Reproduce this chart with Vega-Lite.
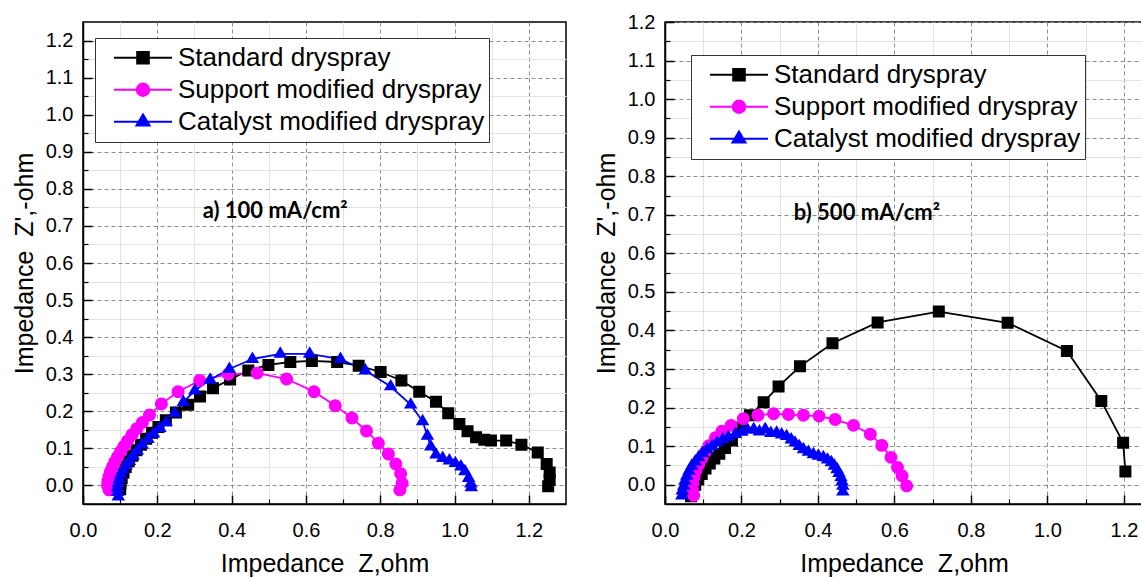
{
  "$schema": "https://vega.github.io/schema/vega-lite/v6.json",
  "background": "white",
  "padding": {"left": 11, "top": 11, "right": 0, "bottom": 0},
  "spacing": 26,
  "config": {
    "view": {"stroke": "#000000", "strokeWidth": 1.5},
    "axis": {"labelFont": "Liberation Sans", "labelFontSize": 20, "labelColor": "#000000", "titleFont": "Liberation Sans", "titleFontSize": 25, "titleFontWeight": "normal", "titleColor": "#000000", "domainColor": "#000000", "domainWidth": 1.5, "tickColor": "#000000", "labelFlush": false, "labelOverlap": false},
    "legend": {"padding": 4, "strokeColor": "#333333", "fillColor": "#ffffff", "cornerRadius": 0, "symbolSize": 3364, "symbolStrokeWidth": 2, "symbolOffset": 14, "labelOffset": 5, "labelFont": "Liberation Sans", "labelFontSize": 26, "labelColor": "#000000", "labelLimit": 600, "clipHeight": 31.5, "rowPadding": 0}
  },
  "datasets": {
    "left": [
      {"series": "Standard dryspray", "z": 0.100, "zi": -0.010},
      {"series": "Standard dryspray", "z": 0.101, "zi": 0.005},
      {"series": "Standard dryspray", "z": 0.104, "zi": 0.020},
      {"series": "Standard dryspray", "z": 0.109, "zi": 0.035},
      {"series": "Standard dryspray", "z": 0.115, "zi": 0.050},
      {"series": "Standard dryspray", "z": 0.123, "zi": 0.065},
      {"series": "Standard dryspray", "z": 0.133, "zi": 0.080},
      {"series": "Standard dryspray", "z": 0.144, "zi": 0.095},
      {"series": "Standard dryspray", "z": 0.156, "zi": 0.110},
      {"series": "Standard dryspray", "z": 0.170, "zi": 0.126},
      {"series": "Standard dryspray", "z": 0.186, "zi": 0.142},
      {"series": "Standard dryspray", "z": 0.203, "zi": 0.158},
      {"series": "Standard dryspray", "z": 0.223, "zi": 0.176},
      {"series": "Standard dryspray", "z": 0.250, "zi": 0.197},
      {"series": "Standard dryspray", "z": 0.283, "zi": 0.218},
      {"series": "Standard dryspray", "z": 0.315, "zi": 0.240},
      {"series": "Standard dryspray", "z": 0.350, "zi": 0.262},
      {"series": "Standard dryspray", "z": 0.396, "zi": 0.286},
      {"series": "Standard dryspray", "z": 0.445, "zi": 0.310},
      {"series": "Standard dryspray", "z": 0.499, "zi": 0.325},
      {"series": "Standard dryspray", "z": 0.558, "zi": 0.333},
      {"series": "Standard dryspray", "z": 0.616, "zi": 0.336},
      {"series": "Standard dryspray", "z": 0.684, "zi": 0.333},
      {"series": "Standard dryspray", "z": 0.742, "zi": 0.323},
      {"series": "Standard dryspray", "z": 0.801, "zi": 0.306},
      {"series": "Standard dryspray", "z": 0.857, "zi": 0.283},
      {"series": "Standard dryspray", "z": 0.905, "zi": 0.253},
      {"series": "Standard dryspray", "z": 0.950, "zi": 0.226},
      {"series": "Standard dryspray", "z": 0.983, "zi": 0.195},
      {"series": "Standard dryspray", "z": 1.013, "zi": 0.166},
      {"series": "Standard dryspray", "z": 1.035, "zi": 0.146},
      {"series": "Standard dryspray", "z": 1.058, "zi": 0.130},
      {"series": "Standard dryspray", "z": 1.080, "zi": 0.123},
      {"series": "Standard dryspray", "z": 1.098, "zi": 0.121},
      {"series": "Standard dryspray", "z": 1.139, "zi": 0.121},
      {"series": "Standard dryspray", "z": 1.180, "zi": 0.110},
      {"series": "Standard dryspray", "z": 1.224, "zi": 0.089},
      {"series": "Standard dryspray", "z": 1.248, "zi": 0.058},
      {"series": "Standard dryspray", "z": 1.256, "zi": 0.035},
      {"series": "Standard dryspray", "z": 1.256, "zi": 0.015},
      {"series": "Standard dryspray", "z": 1.252, "zi": -0.002},
      {"series": "Support modified dryspray", "z": 0.070, "zi": -0.012},
      {"series": "Support modified dryspray", "z": 0.066, "zi": 0.000},
      {"series": "Support modified dryspray", "z": 0.067, "zi": 0.012},
      {"series": "Support modified dryspray", "z": 0.070, "zi": 0.024},
      {"series": "Support modified dryspray", "z": 0.074, "zi": 0.037},
      {"series": "Support modified dryspray", "z": 0.080, "zi": 0.051},
      {"series": "Support modified dryspray", "z": 0.086, "zi": 0.064},
      {"series": "Support modified dryspray", "z": 0.093, "zi": 0.077},
      {"series": "Support modified dryspray", "z": 0.101, "zi": 0.091},
      {"series": "Support modified dryspray", "z": 0.110, "zi": 0.105},
      {"series": "Support modified dryspray", "z": 0.120, "zi": 0.120},
      {"series": "Support modified dryspray", "z": 0.132, "zi": 0.137},
      {"series": "Support modified dryspray", "z": 0.145, "zi": 0.153},
      {"series": "Support modified dryspray", "z": 0.160, "zi": 0.170},
      {"series": "Support modified dryspray", "z": 0.179, "zi": 0.190},
      {"series": "Support modified dryspray", "z": 0.211, "zi": 0.220},
      {"series": "Support modified dryspray", "z": 0.256, "zi": 0.253},
      {"series": "Support modified dryspray", "z": 0.314, "zi": 0.283},
      {"series": "Support modified dryspray", "z": 0.391, "zi": 0.300},
      {"series": "Support modified dryspray", "z": 0.469, "zi": 0.303},
      {"series": "Support modified dryspray", "z": 0.548, "zi": 0.287},
      {"series": "Support modified dryspray", "z": 0.622, "zi": 0.253},
      {"series": "Support modified dryspray", "z": 0.679, "zi": 0.215},
      {"series": "Support modified dryspray", "z": 0.724, "zi": 0.182},
      {"series": "Support modified dryspray", "z": 0.763, "zi": 0.147},
      {"series": "Support modified dryspray", "z": 0.795, "zi": 0.114},
      {"series": "Support modified dryspray", "z": 0.822, "zi": 0.085},
      {"series": "Support modified dryspray", "z": 0.842, "zi": 0.058},
      {"series": "Support modified dryspray", "z": 0.855, "zi": 0.032},
      {"series": "Support modified dryspray", "z": 0.859, "zi": 0.006},
      {"series": "Support modified dryspray", "z": 0.853, "zi": -0.012},
      {"series": "Catalyst modified dryspray", "z": 0.095, "zi": -0.030},
      {"series": "Catalyst modified dryspray", "z": 0.093, "zi": -0.018},
      {"series": "Catalyst modified dryspray", "z": 0.093, "zi": -0.006},
      {"series": "Catalyst modified dryspray", "z": 0.095, "zi": 0.006},
      {"series": "Catalyst modified dryspray", "z": 0.098, "zi": 0.018},
      {"series": "Catalyst modified dryspray", "z": 0.102, "zi": 0.030},
      {"series": "Catalyst modified dryspray", "z": 0.108, "zi": 0.042},
      {"series": "Catalyst modified dryspray", "z": 0.116, "zi": 0.054},
      {"series": "Catalyst modified dryspray", "z": 0.125, "zi": 0.066},
      {"series": "Catalyst modified dryspray", "z": 0.135, "zi": 0.080},
      {"series": "Catalyst modified dryspray", "z": 0.146, "zi": 0.094},
      {"series": "Catalyst modified dryspray", "z": 0.159, "zi": 0.110},
      {"series": "Catalyst modified dryspray", "z": 0.175, "zi": 0.125},
      {"series": "Catalyst modified dryspray", "z": 0.190, "zi": 0.140},
      {"series": "Catalyst modified dryspray", "z": 0.207, "zi": 0.155},
      {"series": "Catalyst modified dryspray", "z": 0.224, "zi": 0.170},
      {"series": "Catalyst modified dryspray", "z": 0.247, "zi": 0.195},
      {"series": "Catalyst modified dryspray", "z": 0.270, "zi": 0.225},
      {"series": "Catalyst modified dryspray", "z": 0.301, "zi": 0.256},
      {"series": "Catalyst modified dryspray", "z": 0.342, "zi": 0.285},
      {"series": "Catalyst modified dryspray", "z": 0.394, "zi": 0.314},
      {"series": "Catalyst modified dryspray", "z": 0.456, "zi": 0.341},
      {"series": "Catalyst modified dryspray", "z": 0.531, "zi": 0.355},
      {"series": "Catalyst modified dryspray", "z": 0.610, "zi": 0.355},
      {"series": "Catalyst modified dryspray", "z": 0.693, "zi": 0.341},
      {"series": "Catalyst modified dryspray", "z": 0.760, "zi": 0.310},
      {"series": "Catalyst modified dryspray", "z": 0.828, "zi": 0.267},
      {"series": "Catalyst modified dryspray", "z": 0.882, "zi": 0.218},
      {"series": "Catalyst modified dryspray", "z": 0.914, "zi": 0.173},
      {"series": "Catalyst modified dryspray", "z": 0.927, "zi": 0.134},
      {"series": "Catalyst modified dryspray", "z": 0.936, "zi": 0.105},
      {"series": "Catalyst modified dryspray", "z": 0.950, "zi": 0.083},
      {"series": "Catalyst modified dryspray", "z": 0.968, "zi": 0.074},
      {"series": "Catalyst modified dryspray", "z": 0.986, "zi": 0.067},
      {"series": "Catalyst modified dryspray", "z": 1.002, "zi": 0.060},
      {"series": "Catalyst modified dryspray", "z": 1.017, "zi": 0.051},
      {"series": "Catalyst modified dryspray", "z": 1.028, "zi": 0.038},
      {"series": "Catalyst modified dryspray", "z": 1.038, "zi": 0.020},
      {"series": "Catalyst modified dryspray", "z": 1.044, "zi": 0.005},
      {"series": "Catalyst modified dryspray", "z": 1.045, "zi": -0.005}
    ],
    "right": [
      {"series": "Standard dryspray", "z": 0.068, "zi": -0.030},
      {"series": "Standard dryspray", "z": 0.072, "zi": -0.015},
      {"series": "Standard dryspray", "z": 0.079, "zi": 0.000},
      {"series": "Standard dryspray", "z": 0.087, "zi": 0.014},
      {"series": "Standard dryspray", "z": 0.096, "zi": 0.028},
      {"series": "Standard dryspray", "z": 0.106, "zi": 0.042},
      {"series": "Standard dryspray", "z": 0.117, "zi": 0.055},
      {"series": "Standard dryspray", "z": 0.129, "zi": 0.068},
      {"series": "Standard dryspray", "z": 0.142, "zi": 0.080},
      {"series": "Standard dryspray", "z": 0.157, "zi": 0.095},
      {"series": "Standard dryspray", "z": 0.175, "zi": 0.115},
      {"series": "Standard dryspray", "z": 0.197, "zi": 0.145},
      {"series": "Standard dryspray", "z": 0.222, "zi": 0.180},
      {"series": "Standard dryspray", "z": 0.258, "zi": 0.214},
      {"series": "Standard dryspray", "z": 0.297, "zi": 0.255},
      {"series": "Standard dryspray", "z": 0.353, "zi": 0.307},
      {"series": "Standard dryspray", "z": 0.438, "zi": 0.367},
      {"series": "Standard dryspray", "z": 0.556, "zi": 0.421},
      {"series": "Standard dryspray", "z": 0.716, "zi": 0.449},
      {"series": "Standard dryspray", "z": 0.896, "zi": 0.420},
      {"series": "Standard dryspray", "z": 1.051, "zi": 0.347},
      {"series": "Standard dryspray", "z": 1.141, "zi": 0.217},
      {"series": "Standard dryspray", "z": 1.198, "zi": 0.109},
      {"series": "Standard dryspray", "z": 1.204, "zi": 0.034},
      {"series": "Support modified dryspray", "z": 0.075, "zi": -0.028},
      {"series": "Support modified dryspray", "z": 0.072, "zi": -0.012},
      {"series": "Support modified dryspray", "z": 0.073, "zi": 0.004},
      {"series": "Support modified dryspray", "z": 0.076, "zi": 0.020},
      {"series": "Support modified dryspray", "z": 0.081, "zi": 0.036},
      {"series": "Support modified dryspray", "z": 0.088, "zi": 0.052},
      {"series": "Support modified dryspray", "z": 0.096, "zi": 0.068},
      {"series": "Support modified dryspray", "z": 0.105, "zi": 0.084},
      {"series": "Support modified dryspray", "z": 0.115, "zi": 0.101},
      {"series": "Support modified dryspray", "z": 0.132, "zi": 0.122},
      {"series": "Support modified dryspray", "z": 0.149, "zi": 0.139},
      {"series": "Support modified dryspray", "z": 0.173, "zi": 0.154},
      {"series": "Support modified dryspray", "z": 0.205, "zi": 0.171},
      {"series": "Support modified dryspray", "z": 0.243, "zi": 0.180},
      {"series": "Support modified dryspray", "z": 0.284, "zi": 0.184},
      {"series": "Support modified dryspray", "z": 0.323, "zi": 0.182},
      {"series": "Support modified dryspray", "z": 0.362, "zi": 0.180},
      {"series": "Support modified dryspray", "z": 0.403, "zi": 0.178},
      {"series": "Support modified dryspray", "z": 0.445, "zi": 0.169},
      {"series": "Support modified dryspray", "z": 0.493, "zi": 0.154},
      {"series": "Support modified dryspray", "z": 0.537, "zi": 0.131},
      {"series": "Support modified dryspray", "z": 0.567, "zi": 0.102},
      {"series": "Support modified dryspray", "z": 0.591, "zi": 0.071},
      {"series": "Support modified dryspray", "z": 0.608, "zi": 0.045},
      {"series": "Support modified dryspray", "z": 0.620, "zi": 0.023},
      {"series": "Support modified dryspray", "z": 0.632, "zi": -0.003},
      {"series": "Catalyst modified dryspray", "z": 0.044, "zi": -0.028},
      {"series": "Catalyst modified dryspray", "z": 0.045, "zi": -0.015},
      {"series": "Catalyst modified dryspray", "z": 0.049, "zi": -0.003},
      {"series": "Catalyst modified dryspray", "z": 0.052, "zi": 0.010},
      {"series": "Catalyst modified dryspray", "z": 0.057, "zi": 0.023},
      {"series": "Catalyst modified dryspray", "z": 0.063, "zi": 0.036},
      {"series": "Catalyst modified dryspray", "z": 0.070, "zi": 0.049},
      {"series": "Catalyst modified dryspray", "z": 0.079, "zi": 0.060},
      {"series": "Catalyst modified dryspray", "z": 0.088, "zi": 0.071},
      {"series": "Catalyst modified dryspray", "z": 0.099, "zi": 0.082},
      {"series": "Catalyst modified dryspray", "z": 0.110, "zi": 0.092},
      {"series": "Catalyst modified dryspray", "z": 0.123, "zi": 0.100},
      {"series": "Catalyst modified dryspray", "z": 0.136, "zi": 0.109},
      {"series": "Catalyst modified dryspray", "z": 0.151, "zi": 0.117},
      {"series": "Catalyst modified dryspray", "z": 0.166, "zi": 0.124},
      {"series": "Catalyst modified dryspray", "z": 0.184, "zi": 0.131},
      {"series": "Catalyst modified dryspray", "z": 0.201, "zi": 0.137},
      {"series": "Catalyst modified dryspray", "z": 0.216, "zi": 0.142},
      {"series": "Catalyst modified dryspray", "z": 0.232, "zi": 0.144},
      {"series": "Catalyst modified dryspray", "z": 0.247, "zi": 0.138},
      {"series": "Catalyst modified dryspray", "z": 0.262, "zi": 0.144},
      {"series": "Catalyst modified dryspray", "z": 0.277, "zi": 0.134},
      {"series": "Catalyst modified dryspray", "z": 0.292, "zi": 0.135},
      {"series": "Catalyst modified dryspray", "z": 0.305, "zi": 0.130},
      {"series": "Catalyst modified dryspray", "z": 0.318, "zi": 0.126},
      {"series": "Catalyst modified dryspray", "z": 0.330, "zi": 0.117},
      {"series": "Catalyst modified dryspray", "z": 0.340, "zi": 0.109},
      {"series": "Catalyst modified dryspray", "z": 0.351, "zi": 0.100},
      {"series": "Catalyst modified dryspray", "z": 0.362, "zi": 0.092},
      {"series": "Catalyst modified dryspray", "z": 0.375, "zi": 0.085},
      {"series": "Catalyst modified dryspray", "z": 0.388, "zi": 0.079},
      {"series": "Catalyst modified dryspray", "z": 0.401, "zi": 0.075},
      {"series": "Catalyst modified dryspray", "z": 0.414, "zi": 0.071},
      {"series": "Catalyst modified dryspray", "z": 0.425, "zi": 0.065},
      {"series": "Catalyst modified dryspray", "z": 0.435, "zi": 0.058},
      {"series": "Catalyst modified dryspray", "z": 0.443, "zi": 0.049},
      {"series": "Catalyst modified dryspray", "z": 0.450, "zi": 0.040},
      {"series": "Catalyst modified dryspray", "z": 0.455, "zi": 0.030},
      {"series": "Catalyst modified dryspray", "z": 0.460, "zi": 0.019},
      {"series": "Catalyst modified dryspray", "z": 0.463, "zi": 0.008},
      {"series": "Catalyst modified dryspray", "z": 0.465, "zi": -0.003},
      {"series": "Catalyst modified dryspray", "z": 0.465, "zi": -0.018}
    ]
  },
  "resolve": {"scale": {"stroke": "independent", "fill": "independent", "shape": "independent"}},
  "hconcat": [
    {
      "width": 483,
      "height": 482,
      "data": {"name": "left"},
      "resolve": {"axis": {"x": "independent", "y": "independent"}},
      "layer": [
        {
          "mark": {"type": "line", "strokeWidth": 1.8},
          "encoding": {
            "x": {"field": "z", "type": "quantitative", "scale": {"domain": [0, 1.3], "nice": false, "zero": false},
              "axis": {"orient": "bottom", "values": [0, 0.2, 0.4, 0.6, 0.8, 1.0, 1.2], "format": ".1f", "tickSize": -9, "tickWidth": 1.5, "labelPadding": 25, "grid": true, "gridColor": "#8c8c8c", "gridDash": [4, 3], "gridWidth": 1, "title": "Impedance\u00a0 Z,ohm", "titlePadding": 11}},
            "y": {"field": "zi", "type": "quantitative", "scale": {"domain": [-0.05, 1.25], "nice": false, "zero": false},
              "axis": {"orient": "left", "values": [0, 0.1, 0.2, 0.3, 0.4, 0.5, 0.6, 0.7, 0.8, 0.9, 1.0, 1.1, 1.2], "format": ".1f", "tickSize": -9, "tickWidth": 1.5, "labelPadding": 19, "grid": true, "gridColor": "#8c8c8c", "gridDash": [4, 3], "gridWidth": 1, "title": "Impedance\u00a0 Z',-ohm", "titlePadding": 8}},
            "stroke": {"field": "series", "type": "nominal",
              "scale": {"domain": ["Standard dryspray", "Support modified dryspray", "Catalyst modified dryspray"], "range": ["#000000", "#ff00ff", "#0000ff"]},
              "legend": {"title": null, "orient": "none", "legendX": 12, "legendY": 16, "direction": "vertical"}},
            "order": {"value": null}
          }
        },
        {
          "mark": {"type": "point", "filled": true, "opacity": 1, "size": 3600, "clip": true},
          "encoding": {
            "x": {"field": "z", "type": "quantitative",
              "axis": {"orient": "bottom", "values": [0.1, 0.3, 0.5, 0.7, 0.9, 1.1], "labels": false, "title": null, "domain": false, "tickSize": -5, "tickWidth": 1.2, "grid": true, "gridColor": "#e2e2e2", "gridWidth": 1}},
            "y": {"field": "zi", "type": "quantitative",
              "axis": {"orient": "left", "values": [0.05, 0.15, 0.25, 0.35, 0.45, 0.55, 0.65, 0.75, 0.85, 0.95, 1.05, 1.15], "labels": false, "title": null, "domain": false, "tickSize": -5, "tickWidth": 1.2, "grid": true, "gridColor": "#e2e2e2", "gridWidth": 1}},
            "fill": {"field": "series", "type": "nominal",
              "scale": {"domain": ["Standard dryspray", "Support modified dryspray", "Catalyst modified dryspray"], "range": ["#000000", "#ff00ff", "#0000ff"]}},
            "shape": {"field": "series", "type": "nominal",
              "scale": {"domain": ["Standard dryspray", "Support modified dryspray", "Catalyst modified dryspray"], "range": ["M-1,0H1M-0.2,-0.2H0.2V0.2H-0.2Z", "M-1,0H1M-0.215,0A0.215,0.215,0,1,1,0.215,0A0.215,0.215,0,1,1,-0.215,0Z", "M-1,0H1M0,-0.25L0.225,0.13L-0.225,0.13Z"]}}
          }
        },
        {
          "data": {"values": [{"label": "a) 100 mA/cm²"}]},
          "mark": {"type": "text", "font": "Lato", "fontWeight": "bold", "fontSize": 22, "align": "left", "baseline": "middle", "color": "#000000"},
          "encoding": {
            "x": {"datum": 0.322, "type": "quantitative", "axis": null},
            "y": {"datum": 0.74, "type": "quantitative", "axis": null},
            "text": {"field": "label", "type": "nominal"}
          }
        }
      ]
    },
    {
      "width": 478,
      "height": 482,
      "data": {"name": "right"},
      "resolve": {"axis": {"x": "independent", "y": "independent"}},
      "layer": [
        {
          "mark": {"type": "line", "strokeWidth": 1.8},
          "encoding": {
            "x": {"field": "z", "type": "quantitative", "scale": {"domain": [0, 1.25], "nice": false, "zero": false},
              "axis": {"orient": "bottom", "values": [0, 0.2, 0.4, 0.6, 0.8, 1.0, 1.2], "format": ".1f", "tickSize": -9, "tickWidth": 1.5, "labelPadding": 25, "grid": true, "gridColor": "#8c8c8c", "gridDash": [4, 3], "gridWidth": 1, "title": "Impedance\u00a0 Z,ohm", "titlePadding": 11}},
            "y": {"field": "zi", "type": "quantitative", "scale": {"domain": [-0.05, 1.2], "nice": false, "zero": false},
              "axis": {"orient": "left", "values": [0, 0.1, 0.2, 0.3, 0.4, 0.5, 0.6, 0.7, 0.8, 0.9, 1.0, 1.1, 1.2], "format": ".1f", "tickSize": -9, "tickWidth": 1.5, "labelPadding": 19, "grid": true, "gridColor": "#8c8c8c", "gridDash": [4, 3], "gridWidth": 1, "title": "Impedance\u00a0 Z',-ohm", "titlePadding": 8}},
            "stroke": {"field": "series", "type": "nominal",
              "scale": {"domain": ["Standard dryspray", "Support modified dryspray", "Catalyst modified dryspray"], "range": ["#000000", "#ff00ff", "#0000ff"]},
              "legend": {"title": null, "orient": "none", "legendX": 26, "legendY": 33, "direction": "vertical"}},
            "order": {"value": null}
          }
        },
        {
          "mark": {"type": "point", "filled": true, "opacity": 1, "size": 3600, "clip": true},
          "encoding": {
            "x": {"field": "z", "type": "quantitative",
              "axis": {"orient": "bottom", "values": [0.1, 0.3, 0.5, 0.7, 0.9, 1.1], "labels": false, "title": null, "domain": false, "tickSize": -5, "tickWidth": 1.2, "grid": true, "gridColor": "#e2e2e2", "gridWidth": 1}},
            "y": {"field": "zi", "type": "quantitative",
              "axis": {"orient": "left", "values": [0.05, 0.15, 0.25, 0.35, 0.45, 0.55, 0.65, 0.75, 0.85, 0.95, 1.05, 1.15], "labels": false, "title": null, "domain": false, "tickSize": -5, "tickWidth": 1.2, "grid": true, "gridColor": "#e2e2e2", "gridWidth": 1}},
            "fill": {"field": "series", "type": "nominal",
              "scale": {"domain": ["Standard dryspray", "Support modified dryspray", "Catalyst modified dryspray"], "range": ["#000000", "#ff00ff", "#0000ff"]}},
            "shape": {"field": "series", "type": "nominal",
              "scale": {"domain": ["Standard dryspray", "Support modified dryspray", "Catalyst modified dryspray"], "range": ["M-1,0H1M-0.2,-0.2H0.2V0.2H-0.2Z", "M-1,0H1M-0.215,0A0.215,0.215,0,1,1,0.215,0A0.215,0.215,0,1,1,-0.215,0Z", "M-1,0H1M0,-0.25L0.225,0.13L-0.225,0.13Z"]}}
          }
        },
        {
          "data": {"values": [{"label": "b) 500 mA/cm²"}]},
          "mark": {"type": "text", "font": "Lato", "fontWeight": "bold", "fontSize": 22, "align": "left", "baseline": "middle", "color": "#000000"},
          "encoding": {
            "x": {"datum": 0.337, "type": "quantitative", "axis": null},
            "y": {"datum": 0.705, "type": "quantitative", "axis": null},
            "text": {"field": "label", "type": "nominal"}
          }
        }
      ]
    }
  ]
}
